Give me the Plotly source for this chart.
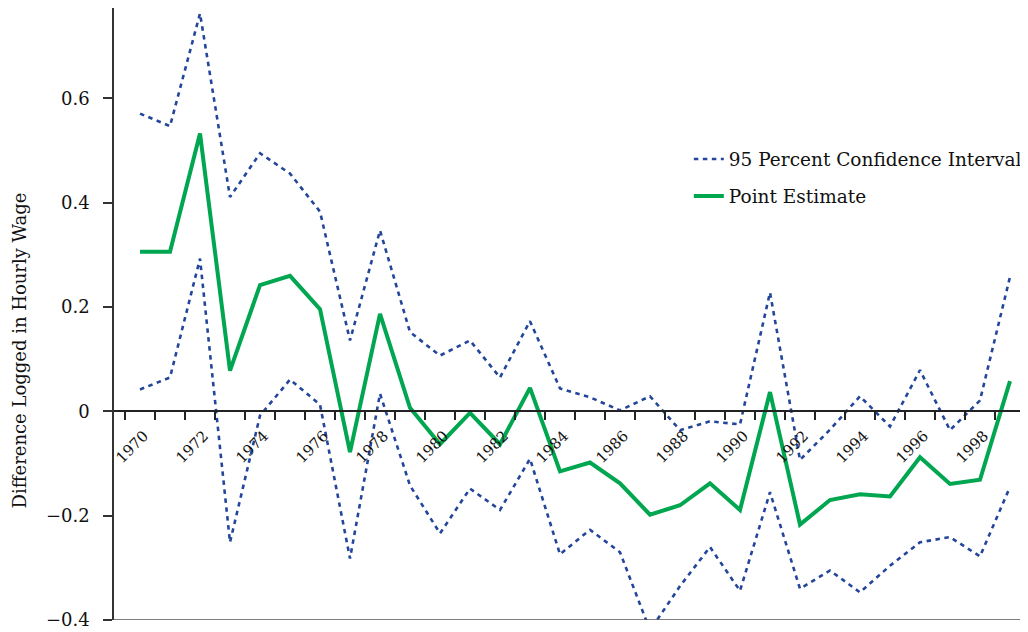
import plotly.graph_objects as go

years = list(range(1970, 2000))
point_estimate = [0.306, 0.306, 0.533, 0.078, 0.242, 0.260, 0.196, -0.078, 0.187, 0.007,
                  -0.063, -0.003, -0.063, 0.045, -0.115, -0.098, -0.138, -0.198, -0.180, -0.138,
                  -0.189, 0.037, -0.217, -0.170, -0.159, -0.163, -0.088, -0.139, -0.131, 0.058]
upper_ci = [0.571, 0.547, 0.763, 0.411, 0.495, 0.456, 0.383, 0.136, 0.347, 0.152,
            0.107, 0.136, 0.065, 0.173, 0.044, 0.027, 0.002, 0.029, -0.036, -0.019,
            -0.025, 0.228, -0.093, -0.035, 0.029, -0.029, 0.079, -0.036, 0.021, 0.258]
lower_ci = [0.042, 0.065, 0.293, -0.251, -0.008, 0.061, 0.013, -0.282, 0.034, -0.142,
            -0.234, -0.148, -0.189, -0.091, -0.274, -0.227, -0.270, -0.420, -0.335, -0.260,
            -0.344, -0.155, -0.340, -0.305, -0.347, -0.296, -0.251, -0.241, -0.278, -0.145]
tick_years = list(range(1970, 2000, 2))
y_ticks = [-0.4, -0.2, 0, 0.2, 0.4, 0.6]
y_labels = ["\u22120.4", "\u22120.2", "0", "0.2", "0.4", "0.6"]

FONT = "DejaVu Serif"
BLUE = "#23469b"
GREEN = "#00a650"

fig = go.Figure()
fig.add_trace(go.Scatter(x=years, y=upper_ci, mode="lines", name="95 Percent Confidence Interval",
                         line=dict(color=BLUE, width=2.6, dash="4.5px,4.5px"),
                         legendgroup="ci", showlegend=True))
fig.add_trace(go.Scatter(x=years, y=lower_ci, mode="lines", name="95 Percent Confidence Interval",
                         line=dict(color=BLUE, width=2.6, dash="4.5px,4.5px"),
                         legendgroup="ci", showlegend=False))
fig.add_trace(go.Scatter(x=years, y=point_estimate, mode="lines", name="Point Estimate",
                         line=dict(color=GREEN, width=4),
                         legendgroup="pe", showlegend=True))

y_min, y_max = -0.4, 0.7735
zero_pos = (0 - y_min) / (y_max - y_min)

fig.update_layout(
    width=1020, height=624,
    margin=dict(l=106, r=1, t=0, b=12),
    paper_bgcolor="white", plot_bgcolor="white",
    font=dict(family=FONT, size=18, color="#111111"),
    showlegend=True,
    legend=dict(x=0.6296, y=0.7835, xanchor="left", yanchor="top",
                bgcolor="rgba(0,0,0,0)", font=dict(size=18.5, family=FONT),
                tracegroupgap=10, traceorder="grouped"),
    xaxis=dict(
        range=[1969.133, 1999.567], anchor="free", position=zero_pos,
        tickmode="array", tickvals=tick_years, ticktext=[str(t) for t in tick_years],
        tickangle=-45, ticks="", tickfont=dict(size=15, family=FONT),
        ticklabelshift=4, ticklabelstandoff=9,
        showline=True, linecolor="#222222", linewidth=1.5,
        showgrid=False, zeroline=False,
        minor=dict(tick0=1969.5, dtick=1, ticks="outside", ticklen=8,
                   tickcolor="#222222", tickwidth=1.5, showgrid=False),
    ),
    yaxis=dict(
        range=[y_min, y_max], tickmode="array", tickvals=y_ticks, ticktext=y_labels,
        ticks="outside", ticklen=9, tickcolor="#333333", tickwidth=1.5,
        tickfont=dict(size=18, family=FONT), ticklabelstandoff=10,
        showline=True, linecolor="#333333", linewidth=1.5,
        showgrid=False, zeroline=False,
    ),
    shapes=[dict(type="line", xref="paper", yref="y", x0=0, x1=1, y0=y_min, y1=y_min,
                 line=dict(color="#555555", width=1.5))],
    annotations=[dict(text="Difference Logged in Hourly Wage", textangle=-90,
                      xref="paper", yref="paper", x=0, y=(620 - 351) / 612,
                      xshift=-95.5, xanchor="center", yanchor="middle", showarrow=False,
                      font=dict(size=18, family=FONT, color="#111111"))],
)

fig.write_html("out.html")
